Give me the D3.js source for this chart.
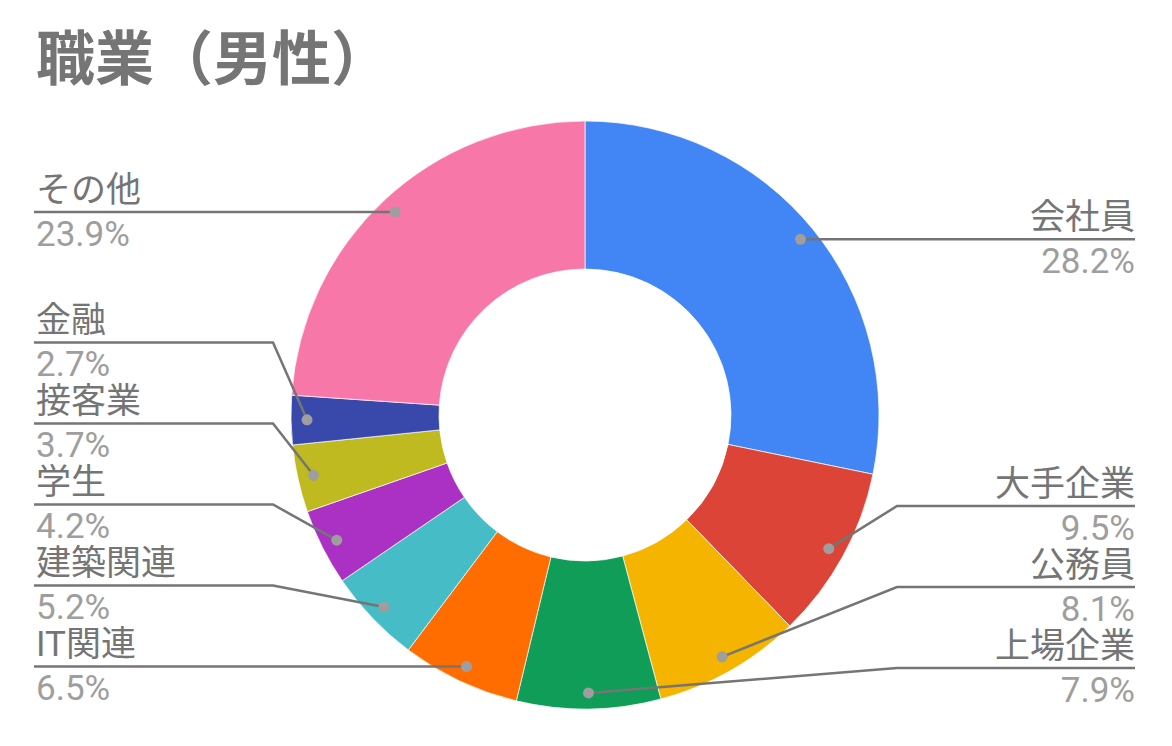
<!DOCTYPE html>
<html><head><meta charset="utf-8">
<script src="https://cdn.jsdelivr.net/npm/d3@7"></script>
<style>
html,body{margin:0;padding:0;background:#fff;}
svg{display:block;}
</style></head>
<body>
<svg id="chart" width="1172" height="746"></svg>
<script>
const title = "職業（男性）";
const categories = ["会社員","大手企業","公務員","上場企業","IT関連","建築関連","学生","接客業","金融","その他"];
const values = [28.2, 9.5, 8.1, 7.9, 6.5, 5.2, 4.2, 3.7, 2.7, 23.9];
const colors = ["#4285F4","#DB4437","#F4B400","#0F9D58","#FF6D00","#46BDC6","#AB30C4","#BFBA1F","#3949AB","#F877A9"];

const W = 1172, H = 746;
const cx = 585, cy = 415, rOut = 294, rIn = 146;
const rDot = 278, elbowR = 312;
const leftX = 36, rightX = 1135, gap = 81, maxLineY = 668;
const fontFam = "Roboto, 'Noto Sans CJK JP', sans-serif";

const svg = d3.select("#chart");

svg.append("text").attr("x", 36).attr("y", 80)
  .attr("font-family", "'Noto Sans CJK JP', Roboto, sans-serif")
  .attr("font-weight", "bold").attr("font-size", 59).attr("fill", "#757575")
  .text(title);

const data = categories.map((c, i) => ({name: c, value: values[i], color: colors[i]}));
const pie = d3.pie().sort(null).value(d => d.value);
const arcs = pie(data);
const arc = d3.arc().innerRadius(rIn).outerRadius(rOut);
const dotArc = d3.arc().innerRadius(rDot).outerRadius(rDot);

const g = svg.append("g").attr("transform", `translate(${cx},${cy})`);
g.selectAll("path.slice").data(arcs).join("path")
  .attr("class", "slice")
  .attr("d", arc).attr("fill", d => d.data.color)
  .attr("stroke", "#fff").attr("stroke-width", 0.7);

// label layout
arcs.forEach(a => {
  const mid = (a.startAngle + a.endAngle) / 2;
  const [x, y] = dotArc.centroid(a);
  a.dx = cx + x; a.dy = cy + y;
  a.right = mid < Math.PI;
});
function layout(list) {
  list.sort((p, q) => q.dy - p.dy); // bottom first
  let prev = null;
  list.forEach(a => {
    let y = Math.min(a.dy, maxLineY);
    if (prev !== null) y = Math.min(y, prev - gap);
    a.ly = y; prev = y;
  });
}
layout(arcs.filter(a => a.right));
layout(arcs.filter(a => !a.right));

const lab = svg.append("g");
arcs.forEach(a => {
  const ex = a.right ? cx + elbowR : cx - elbowR;
  const endX = a.right ? rightX : leftX - 2;
  let pts;
  if (Math.abs(a.ly - a.dy) < 1.5) pts = [[a.dx, a.dy], [endX, a.dy]];
  else pts = [[a.dx, a.dy], [ex, a.ly], [endX, a.ly]];
  lab.append("path").attr("d", d3.line()(pts))
    .attr("fill", "none").attr("stroke", "#757575").attr("stroke-width", 2.5);
  lab.append("circle").attr("cx", a.dx).attr("cy", a.dy).attr("r", 5.5).attr("fill", "#9E9E9E");
  const tx = a.right ? rightX : leftX;
  const anchor = a.right ? "end" : "start";
  const ly = Math.abs(a.ly - a.dy) < 1.5 ? a.dy : a.ly;
  lab.append("text").attr("x", tx).attr("y", ly - 10).attr("text-anchor", anchor)
    .attr("font-family", fontFam).attr("font-size", 35).attr("fill", "#757575")
    .text(a.data.name);
  lab.append("text").attr("x", tx).attr("y", ly + 34).attr("text-anchor", anchor)
    .attr("font-family", fontFam).attr("font-size", 35).attr("fill", "#9E9E9E")
    .text(a.data.value.toFixed(1) + "%");
});
</script>
</body></html>
